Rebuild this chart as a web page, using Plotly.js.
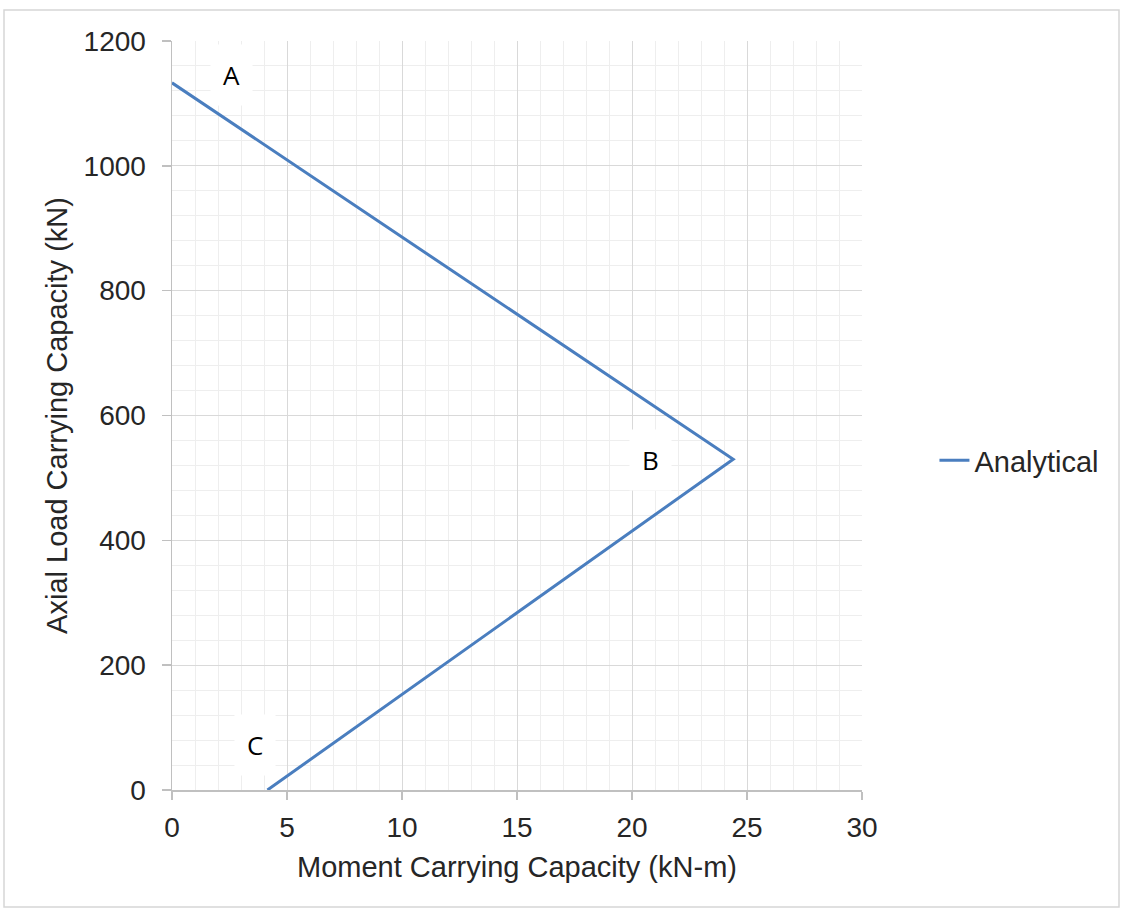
<!DOCTYPE html>
<html>
<head>
<meta charset="utf-8">
<script src="https://cdn.plot.ly/plotly-3.0.1.min.js"></script>
<style>
html,body{margin:0;padding:0;background:#fff;}
#chart{width:1124px;height:910px;}
</style>
</head>
<body>
<div id="chart"></div>
<script>
const moment = [0, 24.4, 4.15];
const axialLoad = [1133, 530, 0];
const seriesName = 'Analytical';
const pointLabels = ['A', 'B', 'C'];
const labelX = [2.6, 20.8, 3.6];
const labelY = [1146, 528, 72];
const xTicks = [0, 5, 10, 15, 20, 25, 30];
const yTicks = [0, 200, 400, 600, 800, 1000, 1200];

const font = 'Liberation Sans, Arial, sans-serif';
const txt = '#262626';

const trace = {
  x: moment, y: axialLoad, name: seriesName,
  type: 'scatter', mode: 'lines',
  line: {color: '#4a7ebf', width: 3}
};

const annotations = pointLabels.map((t, i) => ({
  x: labelX[i], y: labelY[i], xref: 'x', yref: 'y', text: t,
  showarrow: false, bgcolor: '#ffffff', borderpad: 12,
  font: {family: 'Open Sans', size: 26, color: '#000'}
}));

const layout = {
  width: 1124, height: 910,
  margin: {l: 172, r: 262, t: 41, b: 120},
  paper_bgcolor: '#fff', plot_bgcolor: '#fff',
  showlegend: true,
  legend: {x: 1.105, y: 0.44, xanchor: 'left', yanchor: 'middle',
    font: {family: font, size: 29, color: txt}, bgcolor: 'rgba(0,0,0,0)'},
  xaxis: {
    range: [0, 30], tickvals: xTicks, ticktext: xTicks.map(String),
    showgrid: true, gridcolor: '#d9d9d9', gridwidth: 1,
    minor: {dtick: 1, showgrid: true, gridcolor: '#eeeeee', gridwidth: 1, ticks: ''},
    zeroline: false, showline: true, linecolor: '#c0c0c0', linewidth: 1.5,
    ticks: 'outside', ticklen: 8, tickcolor: '#c0c0c0', tickwidth: 1.5,
    ticklabelstandoff: 4,
    tickfont: {family: font, size: 28, color: txt},
    title: {text: 'Moment Carrying Capacity (kN-m)', font: {family: font, size: 29, color: txt}, standoff: 14}
  },
  yaxis: {
    range: [0, 1200], tickvals: yTicks, ticktext: yTicks.map(String),
    showgrid: true, gridcolor: '#d9d9d9', gridwidth: 1,
    minor: {dtick: 40, showgrid: true, gridcolor: '#eeeeee', gridwidth: 1, ticks: ''},
    zeroline: false, showline: true, linecolor: '#c0c0c0', linewidth: 1.5,
    ticks: 'outside', ticklen: 9, tickcolor: '#c0c0c0', tickwidth: 1.5,
    ticklabelstandoff: 10,
    tickfont: {family: font, size: 28, color: txt},
    title: {text: 'Axial Load Carrying Capacity (kN)', font: {family: font, size: 29, color: txt}, standoff: 7}
  },
  annotations: annotations,
  shapes: [{
    type: 'rect', xref: 'paper', yref: 'paper',
    x0: (4 - 172) / 690, x1: (1119 - 172) / 690,
    y0: (790 - 907) / 749, y1: (790 - 10) / 749,
    line: {color: '#d6d6d6', width: 1.5}, fillcolor: 'rgba(0,0,0,0)', layer: 'below'
  }]
};

Plotly.newPlot('chart', [trace], layout, {displayModeBar: false, staticPlot: true});
</script>
</body>
</html>
